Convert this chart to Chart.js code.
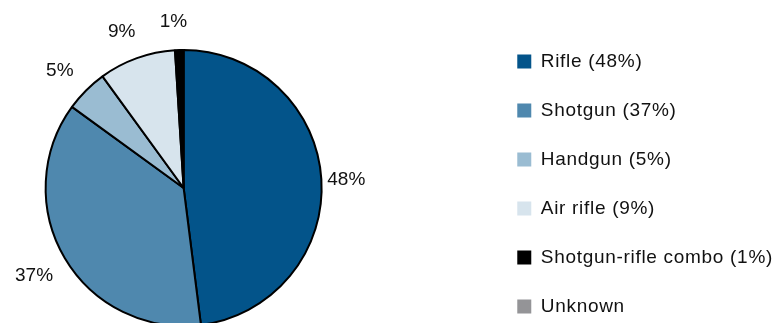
<!DOCTYPE html>
<html>
<head>
<meta charset="utf-8">
<script src="https://cdn.jsdelivr.net/npm/chart.js@4.4.0/dist/chart.umd.min.js"></script>
<style>
  html, body { margin: 0; padding: 0; background: #fff; overflow: hidden; }
  body { position: relative; width: 780px; height: 323px; }
  /* canvas is wider/taller than the page so the pie can sit left and run off the bottom */
  #mycanvas { display: block; position: absolute; left: -120px; top: 0; }
</style>
</head>
<body>
<canvas id="mycanvas" width="940" height="360"></canvas>
<script>
// firearm types, share of incidents in percent
var weaponTypes = ["Rifle", "Shotgun", "Handgun", "Air rifle", "Shotgun-rifle combo", "Unknown"];
var weaponShares = [48, 37, 5, 9, 1, 0];
var sliceColors = ["#03548a", "#4f88ae", "#9abcd2", "#d7e4ed", "#000000", "#949497"];

var labelFont = '"Liberation Sans", Arial, sans-serif';

// legend text, percent only where there is a share
var legendText = [];
for (var i in weaponTypes) {
  if (weaponShares[i] > 0) {
    legendText.push(weaponTypes[i] + " (" + weaponShares[i] + "%)");
  } else {
    legendText.push(weaponTypes[i]);
  }
}

// slightly wider legend lettering (set after the canvas is sized, before the legend is measured)
var legendSpacing = {
  id: 'legendSpacing',
  beforeLayout: function(chart) {
    chart.ctx.letterSpacing = '0.7px';
  }
};

// percent labels just outside each slice
var outsideLabels = {
  id: 'outsideLabels',
  afterDatasetsDraw: function(chart) {
    var ctx = chart.ctx;
    var meta = chart.getDatasetMeta(0);
    ctx.save();
    ctx.letterSpacing = '0px';
    ctx.font = '19px ' + labelFont;
    ctx.fillStyle = '#111';
    ctx.textAlign = 'center';
    ctx.textBaseline = 'middle';
    meta.data.forEach(function(arc, i) {
      if (!weaponShares[i]) return;
      var p = arc.getProps(['x', 'y', 'startAngle', 'endAngle', 'outerRadius'], true);
      var mid = (p.startAngle + p.endAngle) / 2;
      var r = p.outerRadius + 30;
      ctx.fillText(weaponShares[i] + '%', p.x + Math.cos(mid) * r - 5, p.y + Math.sin(mid) * r + 2);
    });
    ctx.restore();
  }
};

var chartdata = {
  labels: legendText,
  datasets: [
    {
      data: weaponShares,
      backgroundColor: sliceColors,
      borderColor: "#000",
      borderWidth: 2,
      radius: 138,
      clip: false
    }
  ]
};

var ctx = document.getElementById("mycanvas");

var PieGraph = new Chart(ctx, {
  type: 'pie',
  data: chartdata,
  plugins: [legendSpacing, outsideLabels],
  options: {
    responsive: false,
    animation: false,
    layout: {
      padding: { left: 0, right: 37, top: 22, bottom: 6 }
    },
    plugins: {
      tooltip: { enabled: false },
      legend: {
        position: 'right',
        align: 'start',
        labels: {
          boxWidth: 14,
          boxHeight: 14,
          padding: 30,
          color: '#111',
          font: { family: labelFont, size: 19 },
          generateLabels: function(chart) {
            var items = Chart.overrides.pie.plugins.legend.labels.generateLabels(chart);
            items.forEach(function(item) {
              item.lineWidth = 0;
              item.strokeStyle = item.fillStyle;
            });
            return items;
          }
        }
      }
    }
  }
});
</script>
</body>
</html>
